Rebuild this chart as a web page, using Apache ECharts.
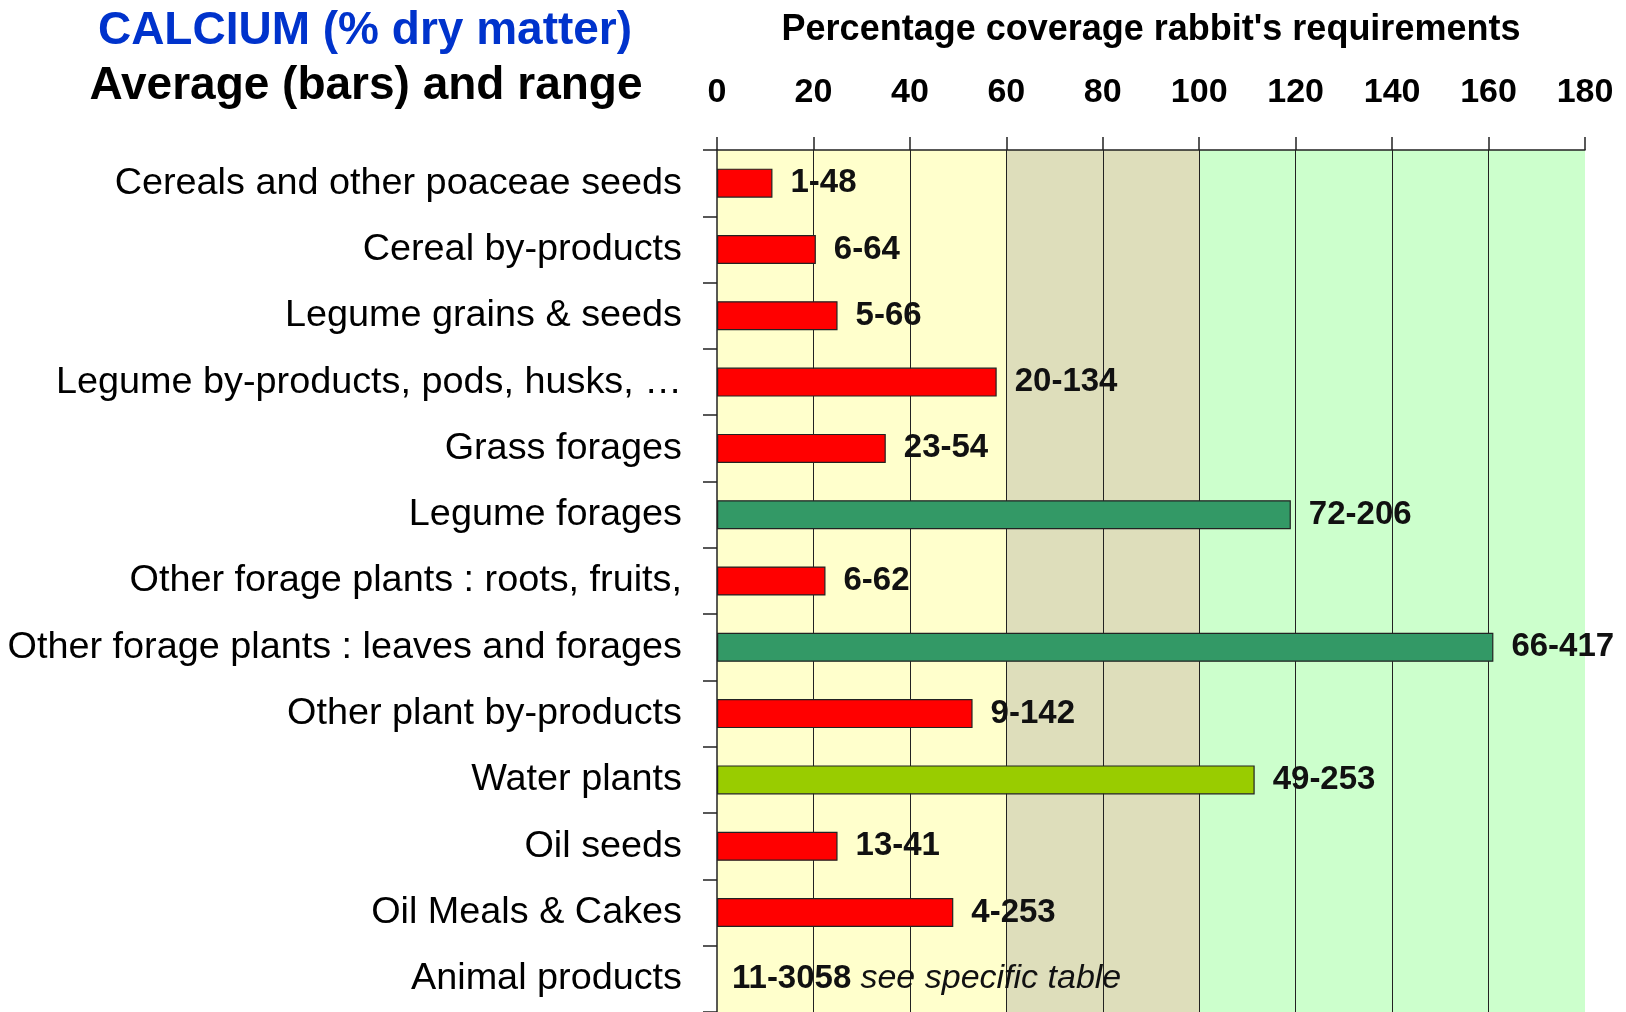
<!DOCTYPE html>
<html>
<head>
<meta charset="utf-8">
<script src="https://cdn.jsdelivr.net/npm/echarts@6/dist/echarts.min.js"></script>
<style>
  html, body { margin: 0; padding: 0; background: #ffffff; }
  #chart { width: 1626px; height: 1012px; }
</style>
</head>
<body>
<div id="chart"></div>
<script>
// ---------------- data ----------------
const categories = [
  'Cereals and other poaceae seeds',
  'Cereal by-products',
  'Legume grains & seeds',
  'Legume by-products, pods, husks, \u2026',
  'Grass forages',
  'Legume forages',
  'Other forage plants : roots, fruits,',
  'Other forage plants : leaves and forages',
  'Other plant by-products',
  'Water plants',
  'Oil seeds',
  'Oil Meals & Cakes',
  'Animal products'
];
// average coverage of requirements (%), null = no bar drawn
const averages = [11.5, 20.5, 25, 58, 35, 119, 22.5, 161, 53, 111.5, 25, 49, null];
// range labels
const ranges = ['1-48', '6-64', '5-66', '20-134', '23-54', '72-206', '6-62', '66-417', '9-142', '49-253', '13-41', '4-253', '11-3058'];
const noBarNote = 'see specific table';
// x axis
const xMin = 0;
const xMax = 180;
const xStep = 20;
// requirement zones (upper bounds of zones)
const zoneBreaks = [60, 100];

// ---------------- styles ----------------
const FONT = '"Liberation Sans", Arial, sans-serif';
const zoneColors = ['#FFFFCC', '#DEDEBB', '#CCFFCC'];
const barRed = '#FF0000';
const barGreen = '#339966';
const colorOverride = { 'Water plants': '#99CC00' };
const dark = '#222222';

function zoneColor(v) {
  let i = 0;
  while (i < zoneBreaks.length && v >= zoneBreaks[i]) i++;
  return zoneColors[i];
}
const areaColors = [];
for (let v = xMin; v < xMax; v += xStep) areaColors.push(zoneColor(v));

const seriesData = categories.map((c, i) => {
  const v = averages[i];
  if (v === null) {
    return {
      value: 0,
      itemStyle: { color: 'rgba(0,0,0,0)', borderWidth: 0 },
      label: {
        distance: 15,
        formatter: '{b|' + ranges[i] + '} {i|' + noBarNote + '}',
        rich: {
          b: { fontFamily: FONT, fontSize: 33, fontWeight: 'bold', color: '#111' },
          i: { fontFamily: FONT, fontSize: 34, fontWeight: 'normal', fontStyle: 'italic', color: '#111' }
        }
      }
    };
  }
  const col = colorOverride[c] || (v >= 100 ? barGreen : barRed);
  return { value: v, itemStyle: { color: col }, label: { formatter: ranges[i] } };
});

const chart = echarts.init(document.getElementById('chart'), null, { renderer: 'canvas' });
chart.setOption({
  animation: false,
  backgroundColor: '#ffffff',
  title: [
    {
      text: 'CALCIUM (% dry matter)',
      left: 365, top: 8, padding: 0, textAlign: 'center',
      textStyle: { fontFamily: FONT, fontSize: 46, fontWeight: 'bold', color: '#0033CC' }
    },
    {
      text: 'Average (bars) and range',
      left: 366, top: 63, padding: 0, textAlign: 'center',
      textStyle: { fontFamily: FONT, fontSize: 46, fontWeight: 'bold', color: '#000000' }
    }
  ],
  grid: { left: 717, right: 41, top: 150, height: 866, containLabel: false },
  xAxis: {
    type: 'value',
    position: 'top',
    min: xMin, max: xMax, interval: xStep,
    name: "Percentage coverage rabbit's requirements",
    nameLocation: 'middle',
    nameGap: 102,
    nameTextStyle: { fontFamily: FONT, fontSize: 36, fontWeight: 'bold', color: '#000' },
    axisLine: { show: true, lineStyle: { color: dark, width: 1.5 } },
    axisTick: { show: true, length: 13, lineStyle: { color: dark, width: 1.5 } },
    axisLabel: { fontFamily: FONT, fontSize: 34, fontWeight: 'bold', color: '#000', margin: 40 },
    splitLine: { show: true, showMinLine: false, showMaxLine: false, lineStyle: { color: dark, width: 1 } },
    splitArea: { show: true, areaStyle: { color: areaColors } }
  },
  yAxis: {
    type: 'category',
    data: categories,
    inverse: true,
    axisLine: { show: true, lineStyle: { color: dark, width: 1.5 } },
    axisTick: { show: true, length: 14, lineStyle: { color: dark, width: 1.5 } },
    axisLabel: { fontFamily: FONT, fontSize: 37.8, color: '#000', margin: 35 },
    splitLine: { show: false }
  },
  series: [{
    type: 'bar',
    barWidth: 29,
    data: seriesData,
    itemStyle: { borderColor: dark, borderWidth: 1.2 },
    label: {
      show: true,
      position: 'right',
      distance: 18,
      fontFamily: FONT,
      fontSize: 33,
      fontWeight: 'bold',
      color: '#111'
    }
  }]
});
</script>
</body>
</html>
